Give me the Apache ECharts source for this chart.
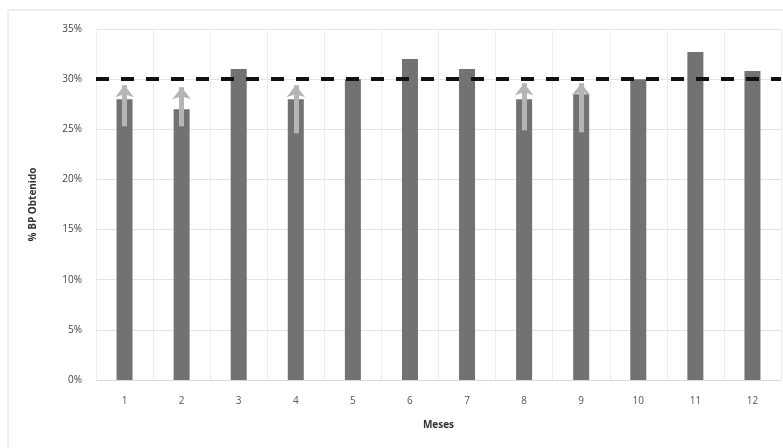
<!DOCTYPE html>
<html>
<head>
<meta charset="utf-8">
<script src="https://cdn.jsdelivr.net/npm/echarts@6/dist/echarts.min.js"></script>
<style>html,body{margin:0;padding:0;background:#fff}#c{width:783px;height:448px}</style>
</head>
<body>
<div id="c"></div>
<script>
var months = ['1','2','3','4','5','6','7','8','9','10','11','12'];
var values = [28, 27, 31, 28, 30, 32, 31, 28, 28.5, 30, 32.7, 30.8];
var target = 30;
var arrowMonths = ['1','2','4','8','9'];
var arrowFrom = [25.3, 25.3, 24.6, 24.9, 24.7];
var arrowTo = [29.4, 29.2, 29.4, 29.6, 29.6];
var yTicks = [0, 5, 10, 15, 20, 25, 30, 35];

var arrowLines = arrowMonths.map(function (m, i) {
  return [{coord: [m, arrowFrom[i]]}, {coord: [m, arrowTo[i]]}];
});

var chart = echarts.init(document.getElementById('c'));
chart.setOption({
  animation: false,
  backgroundColor: '#fff',
  graphic: [{
    type: 'rect', z: -1,
    shape: {x: 8, y: 10, width: 800, height: 460},
    style: {fill: 'none', stroke: '#dcdcdc', lineWidth: 1}
  }],
  grid: {left: 96, right: 2, top: 29, bottom: 68},
  xAxis: {
    type: 'category',
    data: months,
    name: 'Meses',
    nameLocation: 'middle',
    nameGap: 40,
    nameTextStyle: {fontFamily: 'Open Sans', fontSize: 10, fontWeight: 'bold', color: '#333'},
    axisLine: {lineStyle: {color: '#d8d8d8'}},
    axisTick: {show: false},
    axisLabel: {fontFamily: 'Open Sans', fontSize: 10, color: '#555', margin: 16},
    splitLine: {show: true, lineStyle: {color: '#ececec'}}
  },
  yAxis: {
    type: 'value',
    min: 0, max: 35, interval: 5,
    name: '% BP Obtenido',
    nameLocation: 'middle',
    nameGap: 58,
    nameRotate: 90,
    nameTextStyle: {fontFamily: 'Open Sans', fontSize: 10, fontWeight: 'bold', color: '#333'},
    axisLine: {show: false},
    axisTick: {show: false},
    axisLabel: {fontFamily: 'Open Sans', fontSize: 10, color: '#444', margin: 14,
      formatter: function (v) { return yTicks.indexOf(v) >= 0 ? v + '%' : ''; }},
    splitLine: {lineStyle: {color: '#e2e2e2'}}
  },
  series: [{
    type: 'bar',
    data: values,
    barWidth: 16,
    itemStyle: {color: '#727272'},
    markLine: {
      silent: true,
      symbol: ['none', 'none'],
      label: {show: false},
      lineStyle: {color: '#111', width: 4, type: [13, 12]},
      data: [{yAxis: target}]
    },
    z: 2
  }, {
    type: 'line',
    data: [],
    markLine: {
      silent: true,
      symbol: ['none', 'arrow'],
      symbolSize: [14, 12],
      label: {show: false},
      lineStyle: {color: '#b5b5b5', width: 5, type: 'solid'},
      data: arrowLines
    },
    z: 3
  }]
});
</script>
</body>
</html>
